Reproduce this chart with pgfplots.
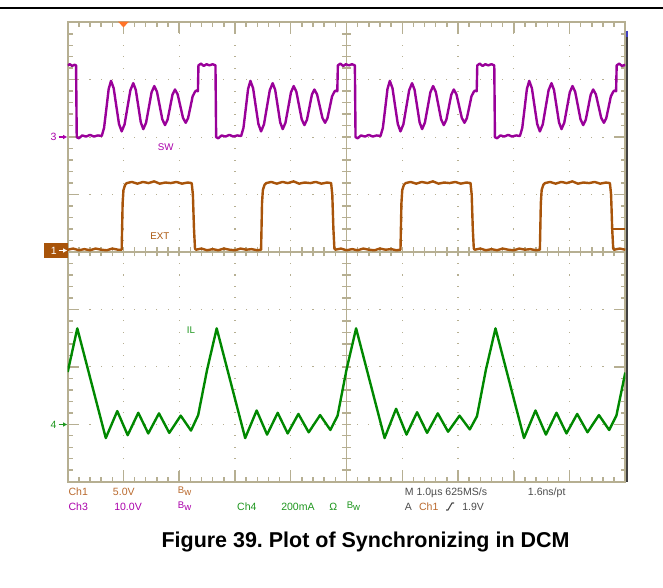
\documentclass[border=0pt]{standalone}
\usepackage{pgfplots}
\pgfplotsset{compat=1.18}
\usepackage{fontspec}
\setmainfont{Liberation Sans}
\frenchspacing
\definecolor{gridc}{RGB}{182,175,146}
\definecolor{swc}{RGB}{153,0,153}
\definecolor{extc}{RGB}{168,84,10}
\definecolor{ilc}{RGB}{0,136,0}
\definecolor{ch1t}{RGB}{185,105,45}
\definecolor{ch3t}{RGB}{170,0,170}
\definecolor{ch4t}{RGB}{30,150,30}
\definecolor{grayt}{RGB}{75,75,75}
\definecolor{trigc}{RGB}{255,115,40}
\newcommand\scf{\fontsize{7.9}{9}\selectfont}
\newcommand\bw{{\fontsize{7.2}{7.2}\selectfont\raisebox{1.8pt}{B}w}}
\begin{document}
\begin{tikzpicture}[x=0.75pt,y=0.75pt]
\path[use as bounding box] (0,0) rectangle (663,588);
\def\Lx{67.7}\def\Rx{625.3}\def\Ty{565.7}\def\By{106.3}\def\Cx{346.5}\def\Cy{336}
% top rule
\draw[line width=1.8, black] (0,580) -- (663,580);
% dotted grid
\foreach \i in {1,2,3,4,6,7,8,9}{
  \foreach \j in {1,...,39}{
    \fill[gridc] ({\Lx+\i*55.76-0.55},{\By+\j*11.485-0.55}) rectangle ++(1.1,1.1);
  }
}
\foreach \i in {1,2,3,5,6,7}{
  \foreach \j in {1,...,49}{
    \fill[gridc] ({\Lx+\j*11.152-0.55},{\By+\i*57.425-0.55}) rectangle ++(1.1,1.1);
  }
}
% border and center lines
\draw[gridc, line width=1.3] (\Lx,\By) rectangle (\Rx,\Ty);
\draw[gridc, line width=1.1] (\Lx,\Cy) -- (\Rx,\Cy);
\draw[gridc, line width=1.1] (\Cx,\By) -- (\Cx,\Ty);
\foreach \j in {1,...,49}{
  \draw[gridc, line width=1.1] ({\Lx+\j*11.152},\Ty) -- ++(0,-4.5);
  \draw[gridc, line width=1.1] ({\Lx+\j*11.152},\By) -- ++(0,4.5);
  \draw[gridc, line width=1.1] ({\Lx+\j*11.152},\Cy-4.5) -- ++(0,9);
}
\foreach \j in {1,...,39}{
  \draw[gridc, line width=1.1] (\Lx,{\By+\j*11.485}) -- ++(4.8,0);
  \draw[gridc, line width=1.1] (\Rx,{\By+\j*11.485}) -- ++(-4.8,0);
  \draw[gridc, line width=1.1] (\Cx-4.5,{\By+\j*11.485}) -- ++(9,0);
}
\foreach \j in {1,...,9}{
  \draw[gridc, line width=1.1] ({\Lx+\j*55.76},\Ty) -- ++(0,-11);
  \draw[gridc, line width=1.1] ({\Lx+\j*55.76},\By) -- ++(0,11);
}
\foreach \j in {1,...,7}{
  \draw[gridc, line width=1.1] (\Lx,{\By+\j*57.425}) -- ++(11,0);
  \draw[gridc, line width=1.1] (\Rx,{\By+\j*57.425}) -- ++(-11,0);
}
% right dark edge
\draw[line width=1.5, black!75] (626.5,551) -- (626.5,106.3);
\draw[line width=1.5, blue!50!gray] (626.5,557) -- (626.5,551);

\begin{axis}[at={(50.775pt,79.725pt)}, anchor=south west,
  width=418.2pt, height=344.55pt, scale only axis,
  xmin=0, xmax=10, ymin=-4, ymax=4, hide axis, clip=true]
% ---- Ch3 SW ----
\addplot[swc, line width=1.8pt, line join=round] coordinates {
(0,3.25) (0.04,3.27) (0.08,3.24) (0.12,3.26) (0.15,3.25) (0.162,2.0) (0.20,1.98) (0.26,2.03) (0.33,2.01) (0.40,2.04) (0.47,2.01) (0.54,2.03)
(0.61,2.02) (0.652,2.161) (0.694,2.50) (0.735,2.839) (0.777,2.98) (0.825,2.851) (0.872,2.54) (0.920,2.229) (0.968,2.10) (1.02,2.223) (1.072,2.52) (1.124,2.817) (1.176,2.94) (1.221,2.823) (1.266,2.54) (1.311,2.257) (1.356,2.14) (1.405,2.25) (1.455,2.515) (1.504,2.78) (1.553,2.89) (1.601,2.79) (1.649,2.55) (1.697,2.31) (1.745,2.21) (1.79,2.301) (1.835,2.52) (1.879,2.739) (1.924,2.83) (1.972,2.745) (2.02,2.54) (2.068,2.335) (2.116,2.25) (2.158,2.329) (2.20,2.52) (2.241,2.711) (2.283,2.79)
(2.30,2.81) (2.335,2.80) (2.345,3.25) (2.39,3.28) (2.44,3.24) (2.49,3.27) (2.54,3.25) (2.60,3.27) (2.65,3.25) (2.662,2.0) (2.70,1.98) (2.76,2.03) (2.83,2.01) (2.90,2.04) (2.97,2.01) (3.04,2.03)
(3.11,2.02) (3.152,2.161) (3.194,2.50) (3.235,2.839) (3.277,2.98) (3.325,2.851) (3.372,2.54) (3.420,2.229) (3.468,2.10) (3.52,2.223) (3.572,2.52) (3.624,2.817) (3.676,2.94) (3.721,2.823) (3.766,2.54) (3.811,2.257) (3.856,2.14) (3.905,2.25) (3.955,2.515) (4.004,2.78) (4.053,2.89) (4.101,2.79) (4.149,2.55) (4.197,2.31) (4.245,2.21) (4.29,2.301) (4.335,2.52) (4.379,2.739) (4.424,2.83) (4.472,2.745) (4.52,2.54) (4.568,2.335) (4.616,2.25) (4.658,2.329) (4.70,2.52) (4.741,2.711) (4.783,2.79)
(4.80,2.81) (4.835,2.80) (4.845,3.25) (4.89,3.28) (4.94,3.24) (4.99,3.27) (5.04,3.25) (5.10,3.27) (5.15,3.25) (5.162,2.0) (5.20,1.98) (5.26,2.03) (5.33,2.01) (5.40,2.04) (5.47,2.01) (5.54,2.03)
(5.61,2.02) (5.652,2.161) (5.694,2.50) (5.735,2.839) (5.777,2.98) (5.825,2.851) (5.872,2.54) (5.920,2.229) (5.968,2.10) (6.02,2.223) (6.072,2.52) (6.124,2.817) (6.176,2.94) (6.221,2.823) (6.266,2.54) (6.311,2.257) (6.356,2.14) (6.405,2.25) (6.455,2.515) (6.504,2.78) (6.553,2.89) (6.601,2.79) (6.649,2.55) (6.697,2.31) (6.745,2.21) (6.79,2.301) (6.835,2.52) (6.879,2.739) (6.924,2.83) (6.972,2.745) (7.02,2.54) (7.068,2.335) (7.116,2.25) (7.158,2.329) (7.20,2.52) (7.241,2.711) (7.283,2.79)
(7.30,2.81) (7.335,2.80) (7.345,3.25) (7.39,3.28) (7.44,3.24) (7.49,3.27) (7.54,3.25) (7.60,3.27) (7.65,3.25) (7.662,2.0) (7.70,1.98) (7.76,2.03) (7.83,2.01) (7.90,2.04) (7.97,2.01) (8.04,2.03)
(8.11,2.02) (8.152,2.161) (8.194,2.50) (8.235,2.839) (8.277,2.98) (8.325,2.851) (8.372,2.54) (8.420,2.229) (8.468,2.10) (8.52,2.223) (8.572,2.52) (8.624,2.817) (8.676,2.94) (8.721,2.823) (8.766,2.54) (8.811,2.257) (8.856,2.14) (8.905,2.25) (8.955,2.515) (9.004,2.78) (9.053,2.89) (9.101,2.79) (9.149,2.55) (9.197,2.31) (9.245,2.21) (9.29,2.301) (9.335,2.52) (9.379,2.739) (9.424,2.83) (9.472,2.745) (9.52,2.54) (9.568,2.335) (9.616,2.25) (9.658,2.329) (9.70,2.52) (9.741,2.711) (9.783,2.79)
(9.80,2.81) (9.835,2.80) (9.845,3.25) (9.89,3.28) (9.94,3.24) (10,3.26)};
% ---- Ch1 EXT ----
\addplot[extc, line width=1.8pt, line join=round] coordinates {
(0,0.04) (0.1,0.06) (0.2,0.03) (0.3,0.05) (0.4,0.03) (0.5,0.06) (0.6,0.04) (0.7,0.03) (0.8,0.06) (0.9,0.04) (0.968,0.04) (0.985,0.85) (1.0,1.08) (1.03,1.17) (1.06,1.2) (1.15,1.22) (1.25,1.19) (1.35,1.22) (1.45,1.2) (1.55,1.23) (1.65,1.19) (1.75,1.21) (1.85,1.2) (1.95,1.22) (2.05,1.19) (2.15,1.21) (2.224,1.2) (2.245,1.0) (2.265,0.4) (2.283,0.06)
(2.3,0.04) (2.4,0.06) (2.5,0.03) (2.6,0.05) (2.7,0.03) (2.8,0.06) (2.9,0.04) (3.0,0.03) (3.1,0.06) (3.2,0.04) (3.3,0.05) (3.4,0.03) (3.468,0.04) (3.485,0.85) (3.5,1.08) (3.53,1.17) (3.56,1.2) (3.65,1.22) (3.75,1.19) (3.85,1.22) (3.95,1.2) (4.05,1.23) (4.15,1.19) (4.25,1.21) (4.35,1.2) (4.45,1.22) (4.55,1.19) (4.65,1.21) (4.724,1.2) (4.745,1.0) (4.765,0.4) (4.783,0.06)
(4.8,0.04) (4.9,0.06) (5.0,0.03) (5.1,0.05) (5.2,0.03) (5.3,0.06) (5.4,0.04) (5.5,0.03) (5.6,0.06) (5.7,0.04) (5.8,0.05) (5.9,0.03) (5.968,0.04) (5.985,0.85) (6.0,1.08) (6.03,1.17) (6.06,1.2) (6.15,1.22) (6.25,1.19) (6.35,1.22) (6.45,1.2) (6.55,1.23) (6.65,1.19) (6.75,1.21) (6.85,1.2) (6.95,1.22) (7.05,1.19) (7.15,1.21) (7.224,1.2) (7.245,1.0) (7.265,0.4) (7.283,0.06)
(7.3,0.04) (7.4,0.06) (7.5,0.03) (7.6,0.05) (7.7,0.03) (7.8,0.06) (7.9,0.04) (8.0,0.03) (8.1,0.06) (8.2,0.04) (8.3,0.05) (8.4,0.03) (8.468,0.04) (8.485,0.85) (8.5,1.08) (8.53,1.17) (8.56,1.2) (8.65,1.22) (8.75,1.19) (8.85,1.22) (8.95,1.2) (9.05,1.23) (9.15,1.19) (9.25,1.21) (9.35,1.2) (9.45,1.22) (9.55,1.19) (9.65,1.21) (9.724,1.2) (9.745,1.0) (9.765,0.4) (9.783,0.06)
(9.8,0.04) (9.9,0.06) (10,0.04)};
% ---- Ch4 IL ----
\addplot[ilc, line width=1.8pt, line join=round] coordinates {
(0,-2.09) (0.172,-1.33) (0.683,-3.24) (0.889,-2.77) (1.076,-3.19) (1.266,-2.80) (1.445,-3.16) (1.637,-2.81) (1.822,-3.15) (2.027,-2.85) (2.211,-3.11) (2.34,-2.84) (2.50,-2.05) (2.672,-1.33)
(3.183,-3.24) (3.389,-2.76) (3.576,-3.18) (3.766,-2.80) (3.945,-3.16) (4.137,-2.82) (4.322,-3.14) (4.527,-2.84) (4.711,-3.10) (4.84,-2.85) (5.0,-2.05) (5.172,-1.33)
(5.683,-3.24) (5.889,-2.73) (6.076,-3.18) (6.266,-2.79) (6.445,-3.15) (6.637,-2.81) (6.822,-3.13) (7.027,-2.85) (7.211,-3.09) (7.34,-2.86) (7.50,-2.05) (7.672,-1.33)
(8.183,-3.24) (8.389,-2.76) (8.576,-3.18) (8.766,-2.80) (8.945,-3.16) (9.137,-2.82) (9.322,-3.14) (9.527,-2.84) (9.711,-3.10) (9.84,-2.85) (10,-2.1)};
\end{axis}

% trigger position marker
\fill[trigc] (118,566.4) -- (129,566.4) -- (123.5,560.6) -- cycle;
% trigger level marker right
\draw[extc, line width=1.5] (611,359) -- (625,359);
% channel markers
\node[ch3t, font=\scf, anchor=center, inner sep=0] at (53.5,451) {3};
\draw[ch3t, line width=0.9] (58.5,451) -- (64,451);
\fill[ch3t] (67,451) -- (63,453.2) -- (63,448.8) -- cycle;
\fill[extc] (44,329.7) rectangle (67.7,345.3);
\node[white, font=\scf, anchor=center, inner sep=0] at (53.8,337.5) {1};
\draw[white, line width=0.9] (58.5,337.5) -- (64,337.5);
\fill[white] (67,337.5) -- (63,339.7) -- (63,335.3) -- cycle;
\node[ch4t, font=\scf, anchor=center, inner sep=0] at (53.5,163.5) {4};
\draw[ch4t, line width=0.9] (58.5,163.5) -- (64,163.5);
\fill[ch4t] (67,163.5) -- (63,165.7) -- (63,161.3) -- cycle;
% trace labels
\node[ch3t, font=\fontsize{7.3}{8}\selectfont, anchor=base west, inner sep=0] at (157.7,437.2) {SW};
\node[extc, font=\fontsize{7.3}{8}\selectfont, anchor=base west, inner sep=0] at (150,348.5) {EXT};
\node[ch4t, font=\fontsize{7.3}{8}\selectfont, anchor=base west, inner sep=0] at (186.7,254) {IL};
% readout row 1
\node[ch1t, font=\scf, anchor=base west, inner sep=0] at (68.3,92.5) {Ch1};
\node[ch1t, font=\scf, anchor=base west, inner sep=0] at (112.7,92.5) {5.0V};
\node[ch1t, anchor=base west, inner sep=0] at (177.7,92.5) {\bw};
\node[grayt, font=\scf, anchor=base west, inner sep=0] at (404.6,92.5) {M 1.0µs 625MS/s};
\node[grayt, font=\scf, anchor=base west, inner sep=0] at (527.7,92.5) {1.6ns/pt};
% readout row 2
\node[ch3t, font=\scf, anchor=base west, inner sep=0] at (68.3,77.5) {Ch3};
\node[ch3t, font=\scf, anchor=base west, inner sep=0] at (114,77.5) {10.0V};
\node[ch3t, anchor=base west, inner sep=0] at (177.7,77.5) {\bw};
\node[ch4t, font=\scf, anchor=base west, inner sep=0] at (236.9,77.5) {Ch4};
\node[ch4t, font=\scf, anchor=base west, inner sep=0] at (281,77.5) {200mA};
\node[ch4t, font=\scf, anchor=base west, inner sep=0] at (329,77.5) {Ω};
\node[ch4t, anchor=base west, inner sep=0] at (346.5,77.5) {\bw};
\node[grayt, font=\scf, anchor=base west, inner sep=0] at (404.6,77.5) {A};
\node[ch1t, font=\scf, anchor=base west, inner sep=0] at (418.8,77.5) {Ch1};
\draw[grayt, line width=0.8] (446,78) -- (448,78) -- (452,85) -- (454,85);
\node[grayt, font=\scf, anchor=base west, inner sep=0] at (462,77.5) {1.9V};
% caption
\node[font=\fontsize{16.1}{18}\selectfont\bfseries, anchor=base, inner sep=0] at (365.5,40.3) {Figure 39. Plot of Synchronizing in DCM};
\end{tikzpicture}
\end{document}
